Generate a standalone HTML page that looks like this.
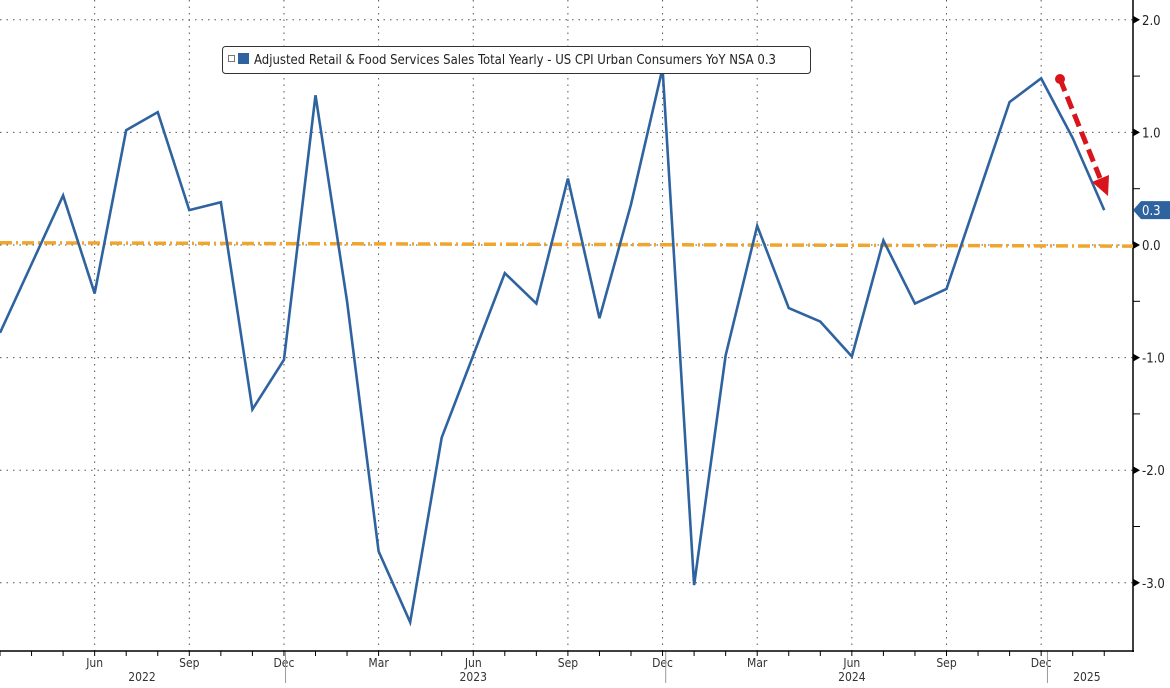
<!DOCTYPE html>
<html><head><meta charset="utf-8"><style>
body{margin:0;background:#fff;width:1170px;height:683px;overflow:hidden;font-family:"Liberation Sans",sans-serif}
svg text{font-family:"DejaVu Sans Condensed","Liberation Sans",sans-serif}
</style></head><body>
<svg id="chart" width="1170" height="683" xmlns="http://www.w3.org/2000/svg">
<g id="grid"></g><g id="axes"></g><g id="series"></g>
</svg>
<script>
const months=["Mar22","Apr22","May22","Jun22","Jul22","Aug22","Sep22","Oct22","Nov22","Dec22","Jan23","Feb23","Mar23","Apr23","May23","Jun23","Jul23","Aug23","Sep23","Oct23","Nov23","Dec23","Jan24","Feb24","Mar24","Apr24","May24","Jun24","Jul24","Aug24","Sep24","Oct24","Nov24","Dec24","Jan25","Feb25"];
const values=[-0.78,-0.17,0.44,-0.43,1.02,1.18,0.31,0.38,-1.46,-1.02,1.33,-0.5,-2.72,-3.35,-1.71,-0.98,-0.25,-0.52,0.59,-0.65,0.36,1.57,-3.02,-0.98,0.17,-0.56,-0.68,-0.99,0.04,-0.52,-0.39,0.44,1.27,1.48,0.95,0.31];
const cpiStart=0.02, cpiEnd=-0.01;
const yTicks=[2,1,0,-1,-2,-3];
const tickLabels=["Jun","Sep","Dec","Mar","Jun","Sep","Dec","Mar","Jun","Sep","Dec"];
const tickIdx=[3,6,9,12,15,18,21,24,27,30,33];
const years=[["2022",4.5],["2023",15],["2024",27],["2025",34.45]];
const sepIdx=[9.05,21.1,33.2];
const NS="http://www.w3.org/2000/svg";
const X=i=>i*31.55, Y=v=>245-v*112.6;
function mk(p,t,a){const e=document.createElementNS(NS,t);for(const k in a)e.setAttribute(k,a[k]);p.appendChild(e);return e;}
const grid=document.getElementById('grid'),axes=document.getElementById('axes'),ser=document.getElementById('series');
yTicks.forEach(v=>{
 const l=mk(grid,'line',{x1:0,x2:1133,y1:Y(v),y2:Y(v),stroke:'#555','stroke-dasharray':'1.5 5','stroke-width':1});
 
 
 mk(axes,'path',{d:`M1133 ${Y(v)-4}L1140 ${Y(v)}L1133 ${Y(v)+4}Z`,fill:'#000'});
 const t=mk(axes,'text',{x:1142,y:Y(v)+5,'font-size':13,fill:'#222'});t.textContent=v.toFixed(1);
 
 
 mk(axes,'line',{x1:1133,x2:1140,y1:Y(v+0.5),y2:Y(v+0.5),stroke:'#000'});
});
tickIdx.forEach((i,k)=>{
 const l=mk(grid,'line',{x1:X(i),x2:X(i),y1:0,y2:651,stroke:'#555','stroke-dasharray':'1.5 5','stroke-width':1});
 
 
 const t=mk(axes,'text',{x:X(i),y:667,'font-size':12,fill:'#333','text-anchor':'middle'});t.textContent=tickLabels[k];
 
 
});
for(let i=0;i<36;i++)mk(axes,'line',{x1:X(i),x2:X(i),y1:651,y2:656,stroke:'#000'});
years.forEach(([s,i])=>{const t=mk(axes,'text',{x:X(i),y:681,'font-size':12,fill:'#333','text-anchor':'middle'});t.textContent=s;
 
 });
sepIdx.forEach(i=>mk(axes,'line',{x1:X(i),x2:X(i),y1:651,y2:683,stroke:'#999'}));
mk(axes,'line',{x1:0,x2:1134,y1:651,y2:651,stroke:'#000','stroke-width':1.5});
mk(axes,'line',{x1:1133,x2:1133,y1:0,y2:652,stroke:'#000','stroke-width':1.5});
const cpi=mk(ser,'line',{x1:0,x2:1133,y1:Y(cpiStart),y2:Y(cpiEnd),stroke:'#f0a52e','stroke-width':3.5,'stroke-dasharray':'12 4 2 4'});


const line=mk(ser,'polyline',{points:values.map((v,i)=>X(i)+','+Y(v)).join(' '),fill:'none',stroke:'#2e63a0','stroke-width':2.6,'stroke-linejoin':'miter'});


const lv=values[values.length-1],ly=Y(lv);
const tag=mk(ser,'path',{d:`M1133 ${ly}L1141 ${ly-9}H1170V${ly+9}H1141Z`,fill:'#2e63a0'});


const tt=mk(ser,'text',{x:1142,y:ly+5,'font-size':13,fill:'#fff'});tt.textContent=lv.toFixed(1);
const ar=mk(ser,'g',{});


mk(ar,'circle',{cx:1060,cy:79,r:5,fill:'#d8141c'});
mk(ar,'line',{x1:1060,y1:79,x2:1100,y2:178,stroke:'#d8141c','stroke-width':5,'stroke-dasharray':'13 6'});
mk(ar,'path',{d:'M1108 196L1109 175L1092 182Z',fill:'#d8141c'});
const lg=mk(ser,'g',{});


mk(lg,'rect',{x:222.5,y:46.5,width:588,height:27,rx:3,fill:'#fff',stroke:'#333'});
mk(lg,'rect',{x:228.5,y:55.5,width:6,height:6,fill:'#fff',stroke:'#777'});
mk(lg,'rect',{x:238,y:53,width:11,height:11,fill:'#2e63a0'});
const lt=mk(lg,'text',{x:254,y:64,'font-size':13,fill:'#222'});
lt.textContent='Adjusted Retail & Food Services Sales Total Yearly - US CPI Urban Consumers YoY NSA 0.3';


</script>
</body></html>
